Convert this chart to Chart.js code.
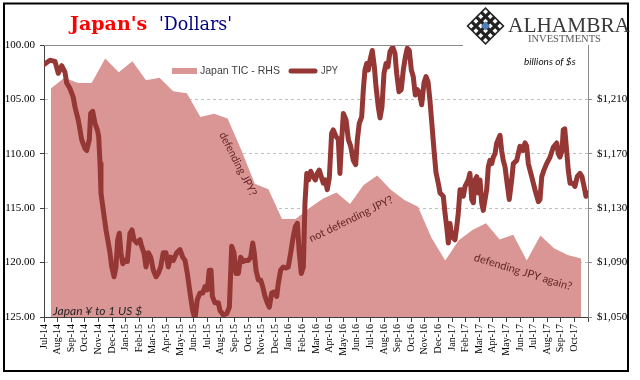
<!DOCTYPE html>
<html><head><meta charset="utf-8">
<script src="https://cdn.jsdelivr.net/npm/chart.js@4"></script>
<style>html,body{margin:0;padding:0;background:#fff;}#wrap{width:640px;height:380px;}</style>
</head><body><div id="wrap"><canvas id="c" width="640" height="380"></canvas></div>
<script>
// Month labels (x axis), one per month starting Jul-14
const monthLabels = ['Jul-14','Aug-14','Sep-14','Oct-14','Nov-14','Dec-14','Jan-15','Feb-15','Mar-15','Apr-15','May-15','Jun-15','Jul-15','Aug-15','Sep-15','Oct-15','Nov-15','Dec-15','Jan-16','Feb-16','Mar-16','Apr-16','May-16','Jun-16','Jul-16','Aug-16','Sep-16','Oct-16','Nov-16','Dec-16','Jan-17','Feb-17','Mar-17','Apr-17','May-17','Jun-17','Jul-17','Aug-17','Sep-17','Oct-17'];

// Japan TIC holdings, billions of $ (monthly, right axis)
const ticValue = [1218,1226,1222,1222,1240,1230,1238,1224,1226,1216,1214.5,1197,1199.5,1196,1173,1148,1144,1122,1122,1130,1137,1141.5,1133,1147,1154,1143.5,1136,1131,1108,1091.5,1106.5,1114,1119,1107,1110.5,1091.5,1110,1100.5,1095.5,1093];

// JPY per USD: time in months since start of Jul-14, and value (left axis, inverted)
const jpyMonth = [0,0.44,0.81,1.05,1.30,1.54,1.67,1.91,2.15,2.28,
2.52,2.65,2.77,3.01,3.14,3.33,3.43,3.58,3.75,3.92,
4.02,4.12,4.19,4.36,4.56,4.73,4.85,4.98,5.15,5.29,
5.42,5.54,5.66,5.79,5.96,6.13,6.32,6.47,6.62,6.82,
7.06,7.18,7.35,7.50,7.67,7.85,8.04,8.24,8.40,8.58,
8.77,8.97,9.14,9.32,9.51,9.76,10.0,10.20,10.37,10.54,
10.74,10.93,11.10,11.27,11.47,11.67,11.84,12.01,12.15,12.28,
12.38,12.57,12.82,12.94,13.18,13.43,13.63,13.80,13.97,14.12,
14.29,14.46,14.65,14.85,15.02,15.20,15.35,15.46,15.59,15.76,
15.93,16.08,16.25,16.42,16.57,16.74,16.91,17.11,17.23,17.40,
17.60,17.79,17.96,18.14,18.33,18.48,18.63,18.77,18.92,19.07,
19.19,19.32,19.46,19.61,19.80,19.95,20.10,20.24,20.39,20.54,
20.68,20.83,20.98,21.15,21.27,21.47,21.64,21.76,21.89,22.01,
22.21,22.38,22.55,22.74,22.92,23.04,23.18,23.36,23.48,23.60,
23.73,23.85,23.97,24.14,24.29,24.41,24.58,24.71,24.85,25.0,
25.15,25.29,25.44,25.64,25.81,25.93,26.10,26.27,26.42,26.57,
26.71,26.86,27.01,27.15,27.30,27.45,27.60,27.77,27.94,28.09,
28.24,28.38,28.53,28.68,28.82,28.99,29.12,29.36,29.49,29.61,
29.73,29.85,29.98,30.22,30.35,30.46,30.59,30.71,30.83,30.96,
31.08,31.20,31.32,31.45,31.57,31.69,31.82,31.94,32.06,32.18,
32.30,32.43,32.55,32.67,32.79,32.92,33.04,33.16,33.29,33.53,
33.65,33.77,33.90,34.02,34.21,34.39,34.51,34.76,35.0,35.20,
35.37,35.49,35.61,35.86,36.10,36.35,36.47,36.60,36.76,36.96,
37.21,37.45,37.70,37.82,37.94,38.09,38.18,38.29,38.38,38.55,
38.68,38.88,39.04,39.21,39.41,39.56,39.71,39.85,40.0];
const jpyValue = [101.8,101.4,101.5,102.6,101.9,102.5,103.5,104.0,104.8,105.7,
106.9,107.8,108.7,109.5,109.7,108.7,106.3,106.1,107.2,107.8,
108.4,110.9,113.6,115.2,117.0,118.2,119.1,120.4,121.3,120.4,
117.9,117.3,119.1,120.1,119.8,119.9,117.3,117.0,117.9,118.2,
117.9,118.5,119.1,120.4,119.1,119.5,120.7,121.3,121.0,120.4,
119.1,119.1,120.4,119.5,119.8,119.1,118.8,119.5,119.8,121.0,
122.8,124.4,125.2,123.4,122.8,122.8,122.2,122.5,120.7,120.7,
123.1,123.7,123.7,124.4,124.8,124.7,124.1,118.5,119.1,121.0,
121.0,119.5,119.9,119.8,119.8,119.5,118.2,119.1,120.7,121.6,
121.6,122.2,123.1,123.7,124.1,122.8,122.7,123.1,121.9,120.7,
120.4,120.5,120.4,119.1,117.6,116.7,116.4,119.1,121.0,120.4,
114.5,111.8,112.4,111.6,112.1,112.4,111.8,111.5,112.1,112.7,
112.4,113.3,112.2,108.1,107.8,108.4,108.7,111.8,108.7,106.3,
106.9,108.7,109.3,110.6,111.0,108.7,107.2,106.6,104.1,102.3,
101.7,102.3,101.4,100.5,102.0,103.8,105.7,106.7,105.7,102.6,
101.7,102.0,100.6,100.2,100.8,102.6,104.3,104.1,102.3,101.1,
100.3,100.5,102.3,102.9,104.6,104.1,104.4,105.5,103.5,102.9,
103.4,105.1,107.4,109.7,111.7,112.7,113.6,113.9,115.5,116.7,
118.2,116.4,117.6,117.9,116.7,115.5,113.3,113.3,113.9,113.0,
112.7,112.4,111.8,114.2,114.5,112.4,112.1,113.6,112.4,114.5,
115.2,114.2,113.3,111.2,110.6,110.9,110.3,110.0,109.0,108.3,
109.7,110.6,111.2,112.4,114.2,112.4,110.9,110.6,109.3,109.7,
109.0,109.3,110.9,112.1,113.3,114.4,114.2,112.1,111.5,110.9,
110.3,109.4,109.0,110.0,110.3,109.7,107.8,107.7,109.0,111.5,
112.7,112.7,113.0,112.1,111.8,112.1,113.0,113.9,113.6];

// Axis tick values
const leftTicks = [100,105,110,115,120,125];
const rightTicks = [1050,1090,1130,1170,1210];

const TIC_COLOR = '#D99694';
const JPY_COLOR = '#953735';
const NOTE_COLOR = '#632523';

function rotText(ctx, txt, cx, cy, deg, maxW) {
  ctx.save();
  ctx.translate(cx, cy);
  ctx.rotate(deg * Math.PI / 180);
  ctx.textAlign = 'center';
  ctx.textBaseline = 'middle';
  ctx.fillText(txt, 0, 0, maxW);
  ctx.restore();
}

const decor = {
  id: 'decor',
  beforeDraw(chart) {
    const ctx = chart.ctx;
    ctx.save();
    ctx.fillStyle = '#fff';
    ctx.fillRect(0, 0, chart.width, chart.height);
    ctx.restore();
  },
  afterDraw(chart) {
    const ctx = chart.ctx;
    const a = chart.chartArea;
    ctx.save();
    // top plot border (interrupted by logo)
    ctx.strokeStyle = '#8c8c8c';
    ctx.lineWidth = 1;
    ctx.beginPath();
    ctx.moveTo(a.left, a.top + 0.5);
    ctx.lineTo(463, a.top + 0.5);
    ctx.stroke();

    // outer frame
    ctx.strokeStyle = '#000';
    ctx.lineWidth = 2;
    ctx.strokeRect(4, 3.5, 624, 367.5);

    // title
    ctx.textBaseline = 'alphabetic';
    ctx.textAlign = 'left';
    ctx.fillStyle = '#FF0000';
    ctx.font = 'bold 19px "DejaVu Serif"';
    ctx.fillText("Japan's", 70, 30, 84);
    ctx.fillStyle = '#000080';
    ctx.font = '18px "DejaVu Serif"';
    ctx.fillText("'Dollars'", 159, 30, 73);

    // logo
    ctx.save();
    ctx.translate(485.5, 26);
    ctx.rotate(Math.PI / 4);
    const s = 27;
    ctx.fillStyle = '#222';
    ctx.fillRect(-s / 2, -s / 2, s, s);
    ctx.fillStyle = '#fff';
    const cell = s / 4;
    for (let r = 0; r < 4; r++) for (let c = 0; c < 4; c++) {
      ctx.fillRect(-s / 2 + c * cell + 1.6, -s / 2 + r * cell + 1.6, cell - 3.2, cell - 3.2);
    }
    ctx.fillStyle = '#4F81BD';
    ctx.fillRect(-3.2, -3.2, 6.4, 6.4);
    ctx.restore();
    ctx.fillStyle = '#3a3a3a';
    ctx.font = '22px "Liberation Serif"';
    ctx.fillText('ALHAMBRA', 508, 32, 122);
    ctx.fillStyle = '#595959';
    ctx.font = '10.5px "Liberation Serif"';
    ctx.fillText('INVESTMENTS', 528, 41.5, 76);

    // units note
    ctx.fillStyle = '#111';
    ctx.font = 'italic 10px Lato';
    ctx.fillText('billions of $s', 524, 65, 62);

    // legend
    ctx.fillStyle = TIC_COLOR;
    ctx.fillRect(172, 68, 25, 6);
    ctx.fillStyle = '#404040';
    ctx.font = '10.5px "Liberation Sans"';
    ctx.textBaseline = 'middle';
    ctx.fillText('Japan TIC - RHS', 200, 71, 80);
    ctx.strokeStyle = JPY_COLOR;
    ctx.lineWidth = 5;
    ctx.lineCap = 'round';
    ctx.beginPath();
    ctx.moveTo(291, 71);
    ctx.lineTo(315, 71);
    ctx.stroke();
    ctx.fillText('JPY', 321, 71, 17);

    // annotations
    ctx.fillStyle = NOTE_COLOR;
    ctx.font = '11px Lato';
    rotText(ctx, 'defending JPY?', 238, 164, 63, 70);
    rotText(ctx, 'not defending JPY?', 351, 219, -26, 92);
    rotText(ctx, 'defending JPY again?', 523, 272, 17, 104);

    ctx.fillStyle = '#262626';
    ctx.font = 'italic 12px Lato';
    ctx.textBaseline = 'alphabetic';
    ctx.textAlign = 'left';
    ctx.fillText('Japan \u00A5 to 1 US $', 53, 315, 94);
    ctx.restore();
  }
};

const serifTick = { family: '"Liberation Serif"', size: 11 };

new Chart(document.getElementById('c'), {
  type: 'line',
  data: {
    datasets: [
      {
        label: 'JPY',
        data: jpyMonth.map((m, i) => ({ x: m, y: jpyValue[i] })),
        xAxisID: 'x', yAxisID: 'y',
        borderColor: JPY_COLOR, backgroundColor: JPY_COLOR,
        borderWidth: 5, pointRadius: 0, tension: 0, fill: false,
        borderCapStyle: 'round', borderJoinStyle: 'round', order: 0
      },
      {
        label: 'Japan TIC - RHS',
        data: ticValue.map((v, i) => ({ x: i + 0.5, y: v })),
        xAxisID: 'x', yAxisID: 'y2',
        borderColor: TIC_COLOR, backgroundColor: TIC_COLOR,
        borderWidth: 0, pointRadius: 0, tension: 0, fill: 'start', order: 1
      }
    ]
  },
  options: {
    responsive: false, animation: false, devicePixelRatio: 1,
    layout: { padding: { top: 45, left: 0, right: 0, bottom: 0 } },
    plugins: { legend: { display: false }, tooltip: { enabled: false } },
    scales: {
      x: {
        type: 'linear', position: 'bottom', min: 0, max: 40,
        afterBuildTicks: s => { s.ticks = monthLabels.map((_, i) => ({ value: i })).concat([{ value: monthLabels.length }]); },
        afterFit: s => { s.height = 63; },
        ticks: {
          autoSkip: false, minRotation: 90, maxRotation: 90, padding: 2,
          color: '#000', font: { family: '"Liberation Serif"', size: 10 },
          callback: v => monthLabels[v] !== undefined ? monthLabels[v] : ''
        },
        grid: { drawOnChartArea: false, drawTicks: true, tickLength: 5, tickColor: '#404040' },
        border: { color: '#404040', width: 1 }
      },
      y: {
        type: 'linear', position: 'left', reverse: true, min: 100, max: 125,
        afterBuildTicks: s => { s.ticks = leftTicks.map(v => ({ value: v })); },
        afterFit: s => { s.width = 44; },
        ticks: { padding: 5, color: '#000', font: serifTick, callback: v => Number(v).toFixed(2) },
        grid: {
          color: c => (c.tick && (c.tick.value === 100 || c.tick.value === 125)) ? 'rgba(0,0,0,0)' : '#BFBFBF',
          lineWidth: 1, tickLength: 4, tickColor: '#404040', drawTicks: true
        },
        border: { color: '#404040', width: 1, dash: [3, 3] }
      },
      y2: {
        type: 'linear', position: 'right', min: 1050, max: 1250,
        afterBuildTicks: s => { s.ticks = rightTicks.map(v => ({ value: v })); },
        afterFit: s => { s.width = 52; },
        ticks: { padding: 5, color: '#000', font: serifTick, callback: v => '$' + Number(v).toLocaleString('en-US') },
        grid: { drawOnChartArea: false, tickLength: 4, tickColor: '#8c8c8c' },
        border: { color: '#8c8c8c', width: 1 }
      }
    }
  },
  plugins: [decor]
});
</script>
</body></html>
